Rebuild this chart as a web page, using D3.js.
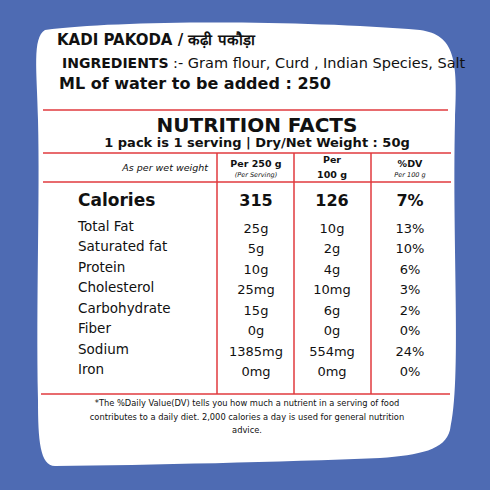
<!DOCTYPE html>
<html><head><meta charset="utf-8">
<script src="https://cdn.jsdelivr.net/npm/d3@7"></script>
<style>body{margin:0;background:#4e6bb3}svg{display:block}text{font-family:"DejaVu Sans",sans-serif;fill:#111}</style>
</head><body><svg id="viz" width="490" height="490"></svg>
<script>
const nutrients = ['Total Fat','Saturated fat','Protein','Cholesterol','Carbohydrate','Fiber','Sodium','Iron'];
const perServing = ['25g','5g','10g','25mg','15g','0g','1385mg','0mg'];
const per100 = ['10g','2g','4g','10mg','6g','0g','554mg','0mg'];
const dv = ['13%','10%','6%','3%','2%','0%','24%','0%'];
const calories = ['315','126','7%'];
const columns = ['per250','per100','dv'];

const svg = d3.select('#viz');
svg.append('rect').attr('width',490).attr('height',490).attr('fill','#4e6bb3');

// white blob
svg.append('path')
  .attr('d','M45,30 C120,20 300,20 420,30 C455,35 458,60 455,120 C452,250 462,380 450,430 C445,450 420,455 380,458 C280,462 150,465 55,466 C40,466 38,440 38,400 C36,300 40,200 38,120 C37,70 32,38 45,30 Z')
  .attr('fill','#fff');

svg.append('text').attr('x',57).attr('y',45).attr('font-size',15).attr('font-weight',700)
  .text('KADI PAKODA / कढ़ी  पकौड़ा');
const ing = svg.append('text').attr('x',62).attr('y',68).attr('font-size',13).attr('font-family','Lato');
ing.append('tspan').attr('font-weight',700).attr('font-size',14).text('INGREDIENTS');
ing.append('tspan').attr('font-size',14.5).text(' :- Gram flour, Curd , Indian Species,  Salt');
svg.append('text').attr('x',59).attr('y',89).attr('font-size',16).attr('font-weight',700)
  .text('ML of water to be added : 250');

const red = '#e03a3e';
const hline = (y,x1,x2)=>svg.append('line').attr('x1',x1).attr('x2',x2).attr('y1',y).attr('y2',y).attr('stroke',red).attr('stroke-width',1.5);
hline(110,43,448); hline(153,43,451); hline(182,43,451); hline(394,41,450);

const x = d3.scaleOrdinal().domain(columns).range([256,332,410]);
const edges = [217,294,371];
edges.forEach(e=>svg.append('line').attr('x1',e).attr('x2',e).attr('y1',153).attr('y2',394).attr('stroke',red).attr('stroke-width',1.5));

svg.append('text').attr('x',257).attr('y',132).attr('text-anchor','middle').attr('font-size',20).attr('font-weight',600).attr('font-family','Open Sans').text('NUTRITION FACTS');
svg.append('text').attr('x',257).attr('y',147).attr('text-anchor','middle').attr('font-size',13).attr('font-weight',700).attr('font-family','Open Sans').text('1 pack is 1 serving | Dry/Net  Weight : 50g');

const t = (xx,yy,s,opts={})=>svg.append('text').attr('x',xx).attr('y',yy).attr('text-anchor',opts.anchor||'middle')
  .attr('font-size',opts.size||11).attr('font-weight',opts.weight||400).attr('font-style',opts.style||'normal')
  .attr('fill',opts.fill||'#111').text(s);
t(208,171,'As per wet weight',{anchor:'end',style:'italic',size:9.5,fill:'#444'});
t(x('per250'),167,'Per 250 g',{weight:700,size:9.5});
t(x('per250'),177,'(Per Serving)',{style:'italic',size:6.5,fill:'#444'});
t(x('per100'),163,'Per',{weight:700,size:9.5});
t(x('per100'),178,'100 g',{weight:700,size:9.5});
t(x('dv'),167,'%DV',{weight:700,size:9.5});
t(x('dv'),177,'Per 100 g',{style:'italic',size:6.5,fill:'#444'});

t(78,206,'Calories',{anchor:'start',weight:700,size:17});
columns.forEach((c,i)=>t(x(c),206,calories[i],{weight:700,size:16}));

const y = d3.scalePoint().domain(nutrients).range([231,374]);
const vals = {per250:perServing, per100:per100, dv:dv};
nutrients.forEach((n,i)=>{
  t(78,y(n),n,{anchor:'start',size:13.5,fill:'#222'});
  columns.forEach(c=>t(x(c),y(n)+2,vals[c][i],{size:13,fill:'#222'}));
});

['*The %Daily Value(DV) tells you how much a nutrient in a serving of food',
 'contributes to a daily diet. 2,000 calories a day is used for general nutrition',
 'advice.'].forEach((s,i)=>t(247,406+i*13.5,s,{size:8.3,fill:'#333'}));
</script></body></html>
